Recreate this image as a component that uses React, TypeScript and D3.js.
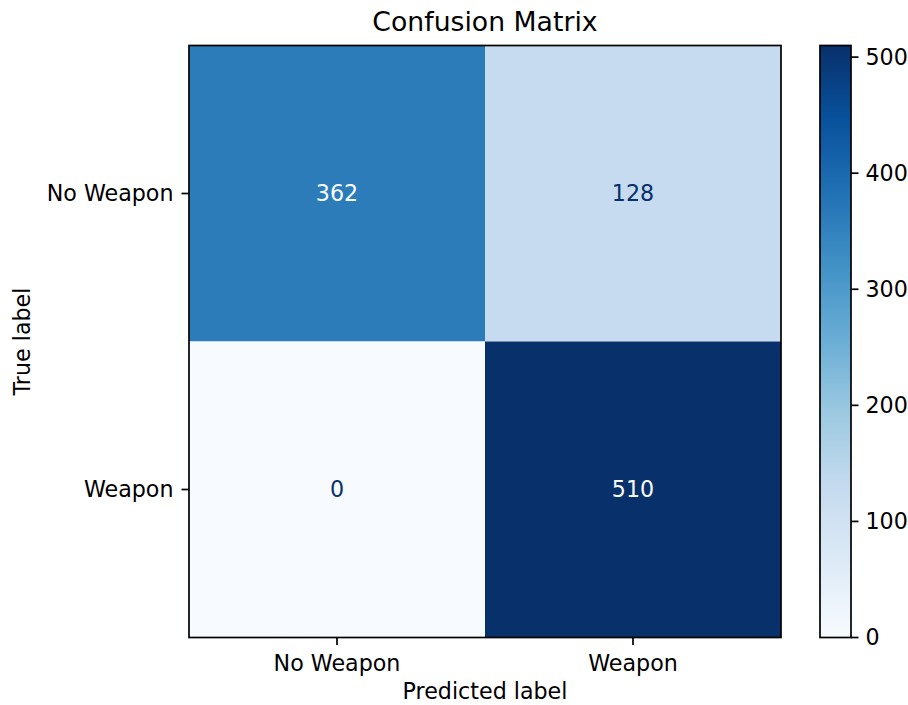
import React from "react";
import * as d3 from "d3";

const predictedLabels = ["No Weapon", "Weapon"];
const trueLabels = ["No Weapon", "Weapon"];
const rowNoWeapon = [362, 128];
const rowWeapon = [0, 510];
const colorbarTicks = [0, 100, 200, 300, 400, 500];
const bluesStops = ["#f7fbff", "#deebf7", "#c6dbef", "#9ecae1", "#6baed6", "#4292c6", "#2171b5", "#08519c", "#08306b"];

const W = 908, H = 705;
const M = { left: 189, top: 45.5, size: 592 };
const CB = { left: 820, width: 31 };
const FONT = "DejaVu Sans, sans-serif";

export default function App() {
  const rows = [rowNoWeapon, rowWeapon];
  const all = rows.flat();
  const vmin = d3.min(all)!, vmax = d3.max(all)!;
  const x = d3.scaleBand().domain(predictedLabels).range([M.left, M.left + M.size]);
  const y = d3.scaleBand().domain(trueLabels).range([M.top, M.top + M.size]);
  const cmapT = d3.scaleLinear<string>()
    .domain(bluesStops.map((_, i) => i / (bluesStops.length - 1)))
    .range(bluesStops).interpolate(d3.interpolateRgb).clamp(true);
  const norm = d3.scaleLinear().domain([vmin, vmax]);
  const color = (v: number) => cmapT(norm(v));
  const thresh = (vmin + vmax) / 2;
  const cy = d3.scaleLinear().domain([vmin, vmax]).range([M.top + M.size, M.top]);
  const gradStops = d3.range(0, 1.0001, 1 / 32);
  const tickLen = 7.5;
  const fs = 22.2;

  return (
    <svg width={W} height={H} style={{ position: "absolute", left: 0, top: 0, background: "#fff" }} fontFamily={FONT}>
      <defs>
        <linearGradient id="cbg" x1="0" y1="1" x2="0" y2="0">
          {gradStops.map((t) => (
            <stop key={t} offset={t} stopColor={cmapT(t)} />
          ))}
        </linearGradient>
      </defs>
      <text x={M.left + M.size / 2} y={31} textAnchor="middle" fontSize={26.7} fill="#000">Confusion Matrix</text>
      {rows.map((row, ri) =>
        row.map((v, ci) => (
          <g key={`${ri}-${ci}`}>
            <rect x={x(predictedLabels[ci])} y={y(trueLabels[ri])} width={x.bandwidth()} height={y.bandwidth()} fill={color(v)} />
            <text x={x(predictedLabels[ci])! + x.bandwidth() / 2} y={y(trueLabels[ri])! + y.bandwidth() / 2} dy="0.36em"
              textAnchor="middle" fontSize={fs} fill={v < thresh ? bluesStops[8] : bluesStops[0]}>{v}</text>
          </g>
        ))
      )}
      <rect x={M.left} y={M.top} width={M.size} height={M.size} fill="none" stroke="#000" strokeWidth={1.7} />
      {predictedLabels.map((l) => {
        const cx = x(l)! + x.bandwidth() / 2;
        return (
          <g key={l}>
            <line x1={cx} x2={cx} y1={M.top + M.size} y2={M.top + M.size + tickLen} stroke="#000" strokeWidth={1.7} />
            <text x={cx} y={M.top + M.size + tickLen + 26} textAnchor="middle" fontSize={fs} fill="#000">{l}</text>
          </g>
        );
      })}
      {trueLabels.map((l) => {
        const c = y(l)! + y.bandwidth() / 2;
        return (
          <g key={l}>
            <line x1={M.left - tickLen} x2={M.left} y1={c} y2={c} stroke="#000" strokeWidth={1.7} />
            <text x={M.left - tickLen - 8} y={c} dy="0.36em" textAnchor="end" fontSize={fs} fill="#000">{l}</text>
          </g>
        );
      })}
      <text x={M.left + M.size / 2} y={699} textAnchor="middle" fontSize={fs} fill="#000">Predicted label</text>
      <text transform={`translate(30, ${M.top + M.size / 2}) rotate(-90)`} textAnchor="middle" fontSize={fs} fill="#000">True label</text>
      <rect x={CB.left} y={M.top} width={CB.width} height={M.size} fill="url(#cbg)" stroke="#000" strokeWidth={1.7} />
      {colorbarTicks.map((t) => (
        <g key={t}>
          <line x1={CB.left + CB.width} x2={CB.left + CB.width + tickLen} y1={cy(t)} y2={cy(t)} stroke="#000" strokeWidth={1.7} />
          <text x={CB.left + CB.width + tickLen + 7} y={cy(t)} dy="0.36em" fontSize={fs} fill="#000">{t}</text>
        </g>
      ))}
    </svg>
  );
}
